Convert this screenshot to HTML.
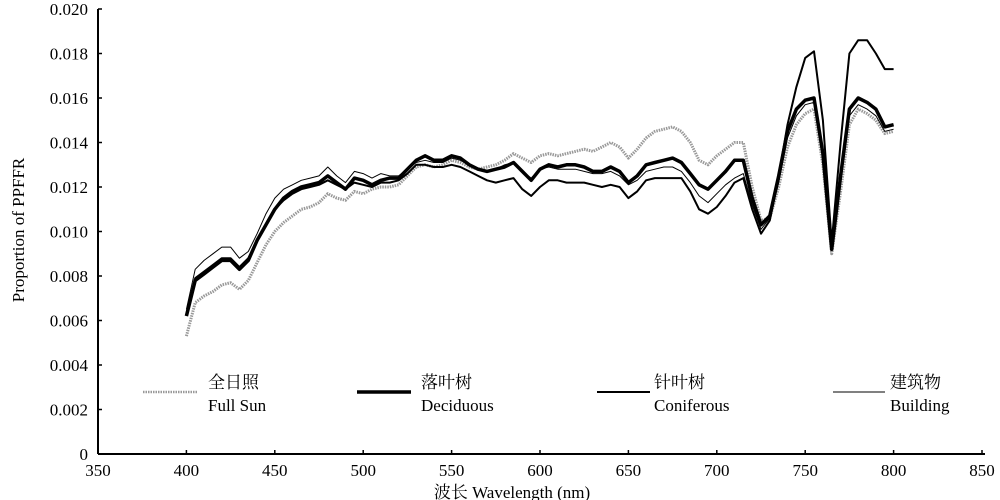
<!DOCTYPE html>
<html><head><meta charset="utf-8">
<style>
html,body{margin:0;padding:0;background:#fff;}
svg{display:block;font-family:"Liberation Serif","Noto Serif CJK SC",serif;}
</style></head>
<body>
<svg id="chart" width="1000" height="500" viewBox="0 0 1000 500" xmlns="http://www.w3.org/2000/svg">
<g id="axes"></g>
<g id="series"></g>
<g id="legend">
  <line x1="143" y1="392" x2="197" y2="392" stroke="#999" stroke-width="2.5" stroke-dasharray="1.5,1"/>
  <text x="208" y="388" font-size="17">全日照</text>
  <text x="208" y="411" font-size="17">Full Sun</text>
  <line x1="357" y1="392" x2="411" y2="392" stroke="#000" stroke-width="3.5"/>
  <text x="421" y="388" font-size="17">落叶树</text>
  <text x="421" y="411" font-size="17">Deciduous</text>
  <line x1="597" y1="392" x2="650" y2="392" stroke="#000" stroke-width="2"/>
  <text x="654" y="388" font-size="17">针叶树</text>
  <text x="654" y="411" font-size="17">Coniferous</text>
  <line x1="833" y1="392" x2="885" y2="392" stroke="#000" stroke-width="1"/>
  <text x="890" y="388" font-size="17">建筑物</text>
  <text x="890" y="411" font-size="17">Building</text>
</g>
<text transform="translate(24,230) rotate(-90)" text-anchor="middle" font-size="17">Proportion of PPFFR</text>
<text x="512" y="498" text-anchor="middle" font-size="17">波长 Wavelength (nm)</text>
</svg>
<script>
const xTicks = [350,400,450,500,550,600,650,700,750,800,850];
const yTicks = [0,0.002,0.004,0.006,0.008,0.010,0.012,0.014,0.016,0.018,0.020];
const yTickLabels = ["0","0.002","0.004","0.006","0.008","0.010","0.012","0.014","0.016","0.018","0.020"];
const wavelengths = Array.from({length:81},(_,i)=>400+5*i);
const fullSun = [0.0053,0.0068,0.0071,0.0073,0.0076,0.0077,0.0074,0.0078,0.0086,0.0094,0.0100,0.0104,0.0107,0.0110,0.0111,0.0113,0.0117,0.0115,0.0114,0.0118,0.0117,0.0119,0.0120,0.0120,0.0121,0.0125,0.0129,0.0130,0.0129,0.0130,0.0132,0.0131,0.0129,0.0128,0.0129,0.0130,0.0132,0.0135,0.0133,0.0131,0.0134,0.0135,0.0134,0.0135,0.0136,0.0137,0.0136,0.0138,0.0140,0.0138,0.0133,0.0137,0.0142,0.0145,0.0146,0.0147,0.0145,0.0140,0.0132,0.0130,0.0134,0.0137,0.0140,0.0140,0.0120,0.0105,0.0106,0.0120,0.0138,0.0148,0.0153,0.0155,0.0130,0.0090,0.0118,0.0148,0.0155,0.0153,0.0150,0.0144,0.0145];
const deciduous = [0.0062,0.0078,0.0081,0.0084,0.0087,0.0087,0.0083,0.0087,0.0096,0.0103,0.0110,0.0115,0.0118,0.0120,0.0121,0.0122,0.0125,0.0122,0.0119,0.0124,0.0123,0.0121,0.0123,0.0124,0.0124,0.0128,0.0132,0.0134,0.0132,0.0132,0.0134,0.0133,0.0130,0.0128,0.0127,0.0128,0.0129,0.0131,0.0127,0.0123,0.0128,0.0130,0.0129,0.0130,0.0130,0.0129,0.0127,0.0127,0.0129,0.0127,0.0122,0.0125,0.0130,0.0131,0.0132,0.0133,0.0131,0.0126,0.0121,0.0119,0.0123,0.0127,0.0132,0.0132,0.0115,0.0103,0.0107,0.0125,0.0145,0.0155,0.0159,0.0160,0.0135,0.0092,0.0125,0.0155,0.0160,0.0158,0.0155,0.0147,0.0148];
const coniferous = [0.0063,0.0079,0.0082,0.0085,0.0088,0.0088,0.0084,0.0088,0.0096,0.0103,0.0110,0.0114,0.0117,0.0119,0.0120,0.0121,0.0123,0.0121,0.0119,0.0122,0.0121,0.0120,0.0122,0.0122,0.0123,0.0126,0.0130,0.0130,0.0129,0.0129,0.0130,0.0129,0.0127,0.0125,0.0123,0.0122,0.0123,0.0124,0.0119,0.0116,0.0120,0.0123,0.0123,0.0122,0.0122,0.0122,0.0121,0.0120,0.0121,0.0120,0.0115,0.0118,0.0123,0.0124,0.0124,0.0124,0.0124,0.0118,0.0110,0.0108,0.0111,0.0116,0.0122,0.0124,0.0110,0.0099,0.0105,0.0125,0.0148,0.0165,0.0178,0.0181,0.0150,0.0095,0.0140,0.0180,0.0186,0.0186,0.0180,0.0173,0.0173];
const building = [0.0065,0.0083,0.0087,0.0090,0.0093,0.0093,0.0088,0.0091,0.0099,0.0108,0.0115,0.0119,0.0121,0.0123,0.0124,0.0125,0.0129,0.0125,0.0122,0.0127,0.0126,0.0124,0.0126,0.0125,0.0125,0.0128,0.0131,0.0132,0.0131,0.0131,0.0133,0.0132,0.0130,0.0128,0.0127,0.0128,0.0130,0.0131,0.0127,0.0124,0.0128,0.0129,0.0128,0.0128,0.0128,0.0127,0.0126,0.0126,0.0127,0.0125,0.0121,0.0123,0.0127,0.0128,0.0129,0.0129,0.0127,0.0122,0.0116,0.0113,0.0117,0.0121,0.0124,0.0126,0.0112,0.0101,0.0106,0.0122,0.0142,0.0152,0.0157,0.0158,0.0133,0.0093,0.0122,0.0152,0.0157,0.0155,0.0152,0.0145,0.0146];

const NS="http://www.w3.org/2000/svg";
const X0=98, X1=982, Y0=454, Y1=9;
function xs(v){return X0+(v-350)/(850-350)*(X1-X0);}
function ys(v){return Y0-(v/0.020)*(Y0-Y1);}
const axes=document.getElementById('axes');
function mk(tag,attrs,parent){const e=document.createElementNS(NS,tag);for(const k in attrs)e.setAttribute(k,attrs[k]);parent.appendChild(e);return e;}
let l=mk('line',{x1:X0,y1:Y0,x2:X0,y2:Y1,stroke:'#000','stroke-width':2},axes);


l=mk('line',{x1:X0,y1:Y0,x2:X1+3,y2:Y0,stroke:'#000','stroke-width':2},axes);


xTicks.forEach(v=>{
  const t=mk('line',{x1:xs(v),y1:Y0,x2:xs(v),y2:Y0-4,stroke:'#000','stroke-width':1.5},axes);
  
  
  const tx=mk('text',{x:xs(v),y:Y0+22,'text-anchor':'middle','font-size':17},axes);
  tx.textContent=String(v);
  
  
});
yTicks.forEach((v,i)=>{
  const t=mk('line',{x1:X0,y1:ys(v),x2:X0+4,y2:ys(v),stroke:'#000','stroke-width':1.5},axes);
  
  
  const tx=mk('text',{x:X0-10,y:ys(v)+6,'text-anchor':'end','font-size':17},axes);
  tx.textContent=yTickLabels[i];
  
  
});
const sg=document.getElementById('series');
function draw(arr,name,stroke,width,dash){
  const d=arr.map((v,i)=>(i?'L':'M')+xs(wavelengths[i]).toFixed(1)+','+ys(v).toFixed(1)).join('');
  const p=mk('path',{d:d,fill:'none',stroke:stroke,'stroke-width':width,'stroke-linejoin':'round'},sg);
  if(dash)p.setAttribute('stroke-dasharray',dash);
  
  
}
draw(fullSun,'series-full-sun','#999',3,'1.5,1');
draw(building,'series-building','#000',1);
draw(coniferous,'series-coniferous','#000',2);
draw(deciduous,'series-deciduous','#000',3.5);
</script>
</body></html>
